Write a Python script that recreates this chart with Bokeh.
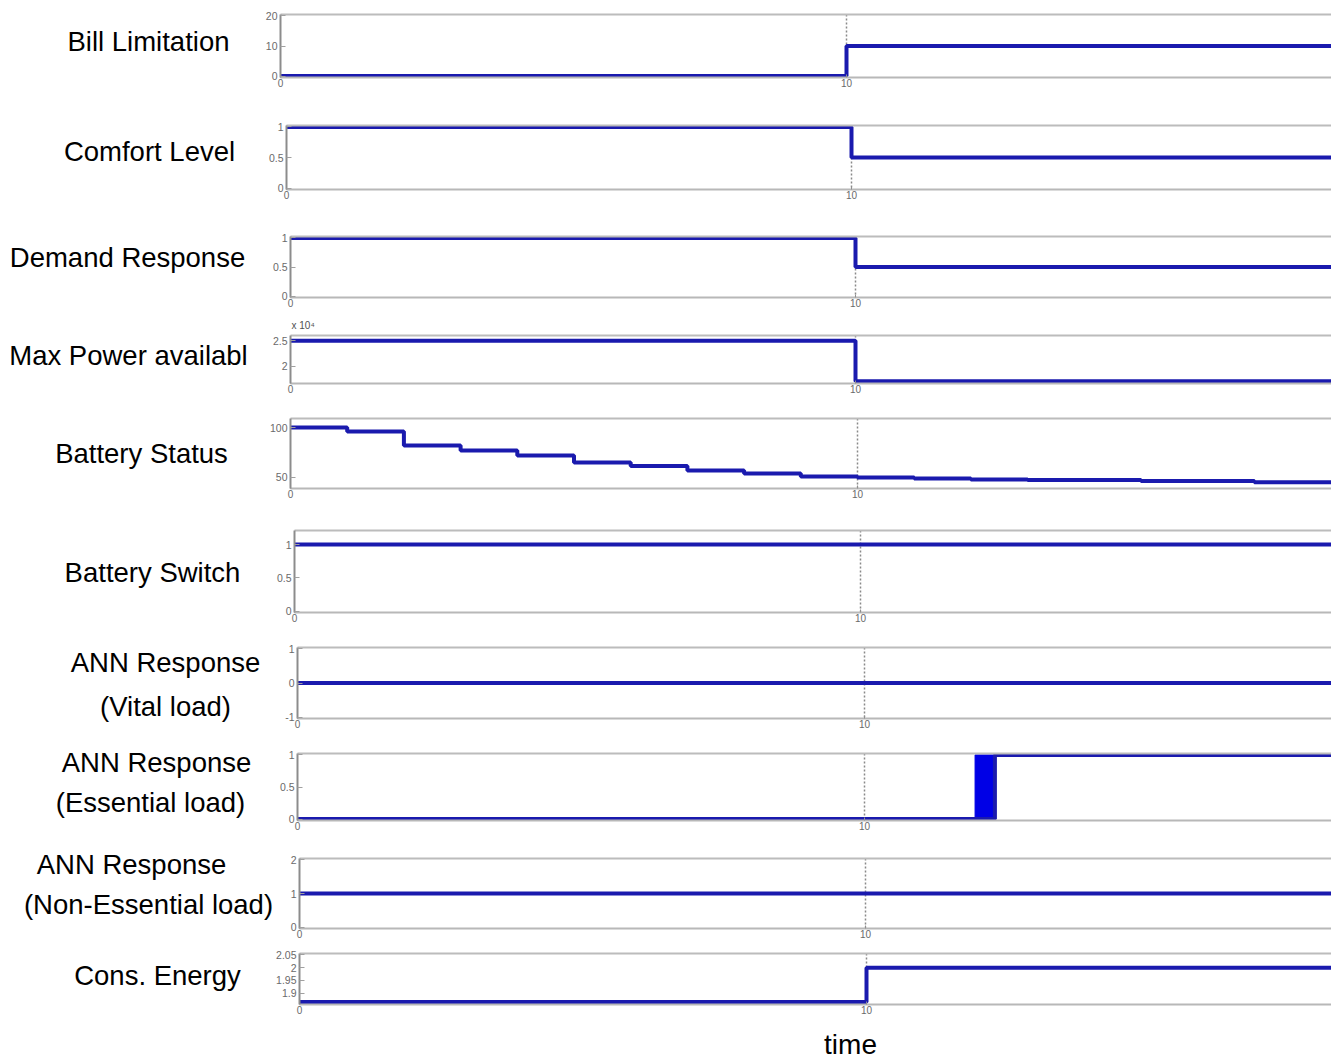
from bokeh.plotting import figure
from bokeh.layouts import column, row
from bokeh.models import Range1d, FixedTicker, Span, LinearAxis
from bokeh.core.properties import value
from bokeh.embed import file_html
from bokeh.resources import INLINE

# ---------------- data ----------------
time_bill = [0, 10, 20]
bill = [0, 10, 10]

time_comfort = [0, 10, 20]
comfort = [1, 0.5, 0.5]

time_demand = [0, 10, 20]
demand = [1, 0.5, 0.5]

time_power = [0, 10, 20]
max_power = [2.5, 1.7, 1.7]          # x 10^4

time_battery = [0, 1, 2, 3, 4, 5, 6, 7, 8, 9, 10, 11, 12, 13, 15, 17, 20]
battery = [100, 96, 82, 77, 72, 65, 61.5, 57, 54, 51, 50, 49, 48, 47.6, 46.6, 45.2, 45.2]

time_switch = [0, 20]
battery_switch = [1, 1]

time_vital = [0, 20]
ann_vital = [0, 0]

time_essential = [0, 11.95, 12.3, 20]
ann_essential = [0, 0, 1, 1]
essential_chatter = [11.95, 12.3]      # rapid on/off switching interval

time_nonessential = [0, 20]
ann_nonessential = [1, 1]

time_energy = [0, 10, 20]
cons_energy = [1.865, 2.0, 2.0]

x_ticks = [0, 10, 20]
event_time = 10

BLUE = "#1a1aae"
FONT = "Liberation Sans"
PAGE_W = 1331
TITLE_SIZE = "27.5px"

# ---------------- panel layout (page pixels) ----------------
panels = [
    dict(t=time_bill, v=bill, left=280, x10=846, top=14, bot=77, ftop=0, fbot=100, ts=28,
         y0=0, y1=20, yticks={0: "0", 10: "10", 20: "20"},
         titles=[("Bill Limitation", 148, 41)]),
    dict(t=time_comfort, v=comfort, left=286, x10=851, top=125, bot=189, ftop=100, fbot=212, ts=28,
         y0=0, y1=1, yticks={0: "0", 0.5: "0.5", 1: "1"},
         titles=[("Comfort Level", 149, 151)]),
    dict(t=time_demand, v=demand, left=290, x10=855, top=236, bot=297, ftop=212, fbot=314, ts=28,
         y0=0, y1=1, yticks={0: "0", 0.5: "0.5", 1: "1"},
         titles=[("Demand Response", 127, 257)]),
    dict(t=time_power, v=max_power, left=290, x10=855, top=335, bot=383, ftop=330, fbot=400, ts=28,
         y0=1.685, y1=2.574, yticks={2: "2", 2.5: "2.5"},
         titles=[("Max Power availabl", 128, 355)]),
    dict(t=time_battery, v=battery, left=290, x10=857, top=418, bot=488, ftop=400, fbot=515, ts=28,
         y0=40.4, y1=107.7, yticks={50: "50", 100: "100"},
         titles=[("Battery Status", 141, 453)]),
    dict(t=time_switch, v=battery_switch, left=294, x10=860, top=530, bot=612, ftop=515, fbot=632, ts=28,
         y0=0, y1=1.19, yticks={0: "0", 0.5: "0.5", 1: "1"},
         titles=[("Battery Switch", 152, 572)]),
    dict(t=time_vital, v=ann_vital, left=297, x10=864, top=647, bot=718, ftop=632, fbot=738, ts=24,
         y0=-1, y1=1, yticks={-1: "-1", 0: "0", 1: "1"},
         titles=[("ANN Response", 165, 662), ("(Vital load)", 165, 706)]),
    dict(t=time_essential, v=ann_essential, left=297, x10=864, top=753, bot=820, ftop=738, fbot=840, ts=28,
         y0=0, y1=1, yticks={0: "0", 0.5: "0.5", 1: "1"},
         titles=[("ANN Response", 156, 762), ("(Essential load)", 150, 802)]),
    dict(t=time_nonessential, v=ann_nonessential, left=299, x10=865, top=858, bot=928, ftop=840, fbot=945, ts=18,
         y0=0, y1=2, yticks={0: "0", 1: "1", 2: "2"},
         titles=[("ANN Response", 131, 864), ("(Non-Essential load)", 148, 904)]),
    dict(t=time_energy, v=cons_energy, left=299, x10=866, top=953, bot=1004, ftop=945, fbot=1022, ts=30,
         y0=1.861, y1=2.05, yticks={1.9: "1.9", 1.95: "1.95", 2.0: "2", 2.05: "2.05"},
         titles=[("Cons. Energy", 157, 975)]),
]


def text_strip(width, height, items, y_off=0):
    """A bare figure (no axes) used to hold free text, in local pixel coordinates."""
    f = figure(width=width, height=height, x_range=Range1d(0, width), y_range=Range1d(height, 0),
               output_backend="svg", toolbar_location=None, title=None,
               x_axis_type=None, y_axis_type=None,
               min_border_left=0, min_border_right=0, min_border_top=0, min_border_bottom=0)
    f.frame_align = False
    f.outline_line_color = None
    f.grid.visible = False
    for text, cx, cy, size, color, align in items:
        f.text(x=[cx], y=[cy - y_off], text=[text], text_font=value(FONT),
               text_font_size=size, text_color=color, text_align=align,
               text_baseline="middle")
    return f


rows = []
for i, pnl in enumerate(panels):
    left, x10, top, bot = pnl["left"], pnl["x10"], pnl["top"], pnl["bot"]
    sx = (x10 - left) / 10.0
    x_end = (PAGE_W - left) / sx
    pad = 1.5 * (pnl["y1"] - pnl["y0"]) / (bot - top)
    y0 = pnl["y0"] - pad
    y1 = pnl["y1"] + pad
    h = pnl["fbot"] - pnl["ftop"]
    ts = pnl["ts"]
    lw = left - ts

    p = figure(width=PAGE_W - lw, height=h,
               x_range=Range1d(0, x_end), y_range=Range1d(y0, y1),
               output_backend="svg", toolbar_location=None, title=None,
               min_border_left=ts, min_border_right=0,
               min_border_top=top - pnl["ftop"], min_border_bottom=pnl["fbot"] - bot)
    p.frame_align = False
    p.outline_line_color = None
    p.grid.visible = False

    # bottom axis
    p.xaxis.ticker = FixedTicker(ticks=x_ticks)
    p.xaxis.axis_line_color = "#b8b8b8"
    p.xaxis.axis_line_width = 2
    p.xaxis.major_tick_in = 3
    p.xaxis.major_tick_out = 0
    p.xaxis.minor_tick_line_color = None
    p.xaxis.major_tick_line_color = "#909090"
    p.xaxis.major_label_text_font = FONT
    p.xaxis.major_label_text_font_size = "10px"
    p.xaxis.major_label_text_color = "#6a6a6a"
    p.xaxis.major_label_standoff = 1

    # left axis
    p.yaxis.ticker = FixedTicker(ticks=list(pnl["yticks"].keys()))
    p.yaxis.major_label_overrides = pnl["yticks"]
    p.yaxis.axis_line_color = "#8c8c8c"
    p.yaxis.axis_line_width = 2
    p.yaxis.major_tick_in = 5
    p.yaxis.major_tick_out = 0
    p.yaxis.major_tick_line_color = "#a0a0a0"
    p.yaxis.minor_tick_line_color = None
    p.yaxis.major_label_text_font = FONT
    p.yaxis.major_label_text_font_size = "10.5px"
    p.yaxis.major_label_text_color = "#6a6a6a"
    p.yaxis.major_label_standoff = 3

    # top border line
    top_axis = LinearAxis(ticker=FixedTicker(ticks=[]), axis_line_color="#bcbcbc",
                          axis_line_width=2, major_tick_line_color=None,
                          minor_tick_line_color=None, major_label_text_font_size="0px",
                          major_label_standoff=0)
    p.add_layout(top_axis, "above")

    # event marker at t = 10
    p.add_layout(Span(location=event_time, dimension="height", line_color="#8a8a8a",
                      line_width=1.5, line_dash="2 2", level="underlay"))

    if pnl["t"] is time_essential:
        p.quad(left=[essential_chatter[0]], right=[essential_chatter[1]],
               bottom=[0], top=[1], fill_color="#0000e6", line_color="#0000e6")

    p.step(pnl["t"], pnl["v"], mode="after", line_color=BLUE, line_width=4)

    label_fig = text_strip(lw, h, [(t, cx, cy, TITLE_SIZE, "#000000", "center")
                                   for t, cx, cy in pnl["titles"]], y_off=pnl["ftop"])
    rows.append(row(label_fig, p, spacing=0))

    if i == 2:
        # strip holding the axis multiplier of the "Max Power" panel
        rows.append(text_strip(PAGE_W, panels[3]["ftop"] - pnl["fbot"],
                               [("x 10\u2074", 291, 325, "10px", "#505050", "left")],
                               y_off=pnl["fbot"]))

# footer with the x-axis title
rows.append(text_strip(PAGE_W, 1064 - panels[-1]["fbot"],
                       [("time", 850, 1044, "28px", "#000000", "center")],
                       y_off=panels[-1]["fbot"]))

layout = column(*rows, spacing=0)
open("out.html", "w").write(file_html(layout, INLINE))
